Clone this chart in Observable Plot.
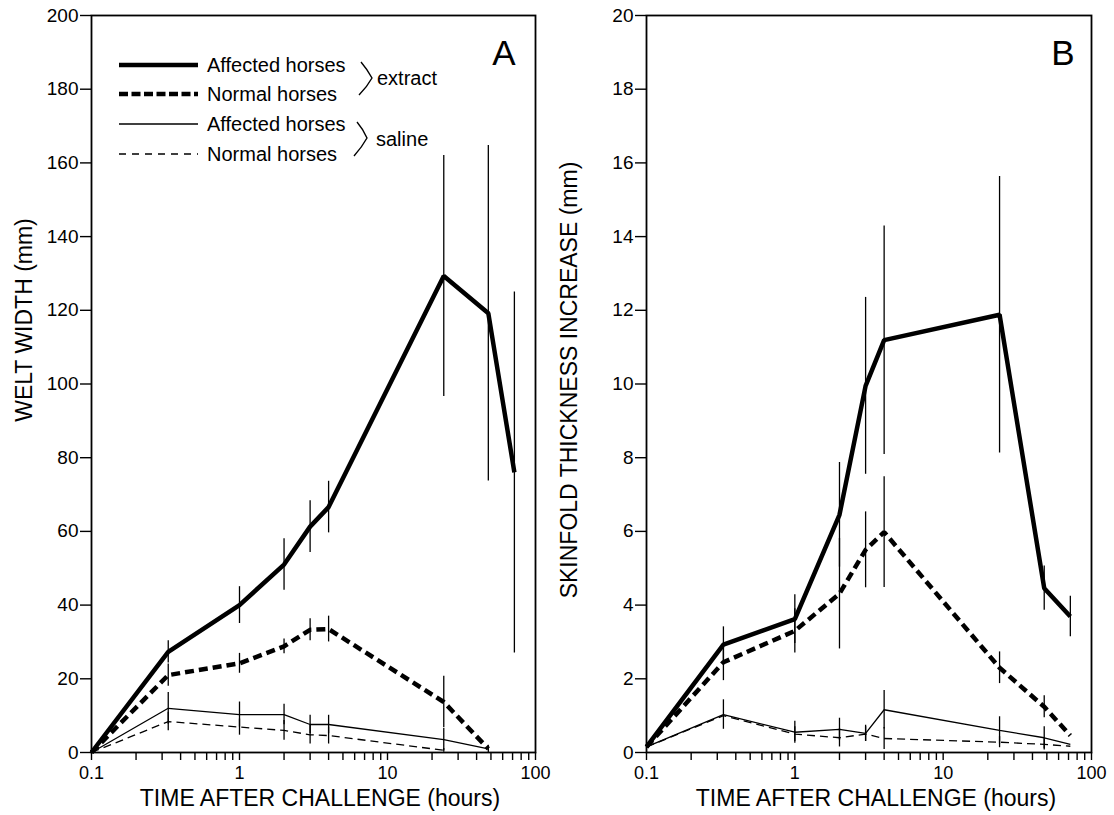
<!DOCTYPE html>
<html>
<head>
<meta charset="utf-8">
<script src="https://cdn.jsdelivr.net/npm/d3@7"></script>
<script src="https://cdn.jsdelivr.net/npm/@observablehq/plot@0.6"></script>
<style>
  html, body { margin: 0; padding: 0; background: #fff; }
  #wrap { display: flex; width: 1114px; height: 815px; }
  svg { display: block; }
</style>
</head>
<body>
<div id="wrap"></div>
<script>
// ---------- data ----------
const hours = [0.1, 0.33, 1, 2, 3, 4, 24, 48, 72];

// Panel A: welt width (mm)
const aAffExtract     = [0, 27.3, 40, 51, 61.3, 66.6, 129.3, 119.2, 76];
const aAffExtractErr  = [0, 3, 5, 7, 7, 7, 32.7, 45.5, 49];
const aNormExtract    = [0, 21, 24.2, 28.8, 33.3, 33.5, 13.7, 1.0, null];
const aNormExtractErr = [0, 3, 2.7, 2, 3, 3.5, 7, 1, null];
const aAffSaline      = [0, 12, 10.3, 10.3, 7.6, 7.6, 3.5, 1.0, null];
const aAffSalineErr   = [0, 4.3, 3.4, 2.8, 2.5, 2.5, 3, 0.5, null];
const aNormSaline     = [0, 8.4, 6.9, 6.0, 4.8, 4.6, 0.6, null, null];
const aNormSalineErr  = [0, 2.5, 2.2, 2.7, 2.5, 2.3, 0.5, null, null];

// Panel B: skinfold thickness increase (mm)
const bAffExtract     = [0.15, 2.93, 3.62, 6.45, 9.95, 11.19, 11.88, 4.46, 3.69];
const bAffExtractErr  = [0, 0.48, 0.66, 1.42, 2.4, 3.1, 3.75, 0.6, 0.55];
const bNormExtract    = [0.15, 2.45, 3.3, 4.31, 5.5, 5.98, 2.3, 1.24, 0.46];
const bNormExtractErr = [0, 0.5, 0.6, 1.5, 1.03, 1.5, 0.43, 0.3, 0];
const bAffSaline      = [0.15, 1.03, 0.55, 0.63, 0.52, 1.16, 0.6, 0.4, 0.22];
const bAffSalineErr   = [0, 0.4, 0.3, 0.3, 0.22, 0.52, 0.37, 0.3, 0];
const bNormSaline     = [0.15, 1.0, 0.5, 0.4, 0.5, 0.38, 0.28, 0.22, 0.17];
const bNormSalineErr  = [0, 0, 0.2, 0.25, 0.2, 0.3, 0.15, 0.15, 0];

// axis ticks
const xTicks = [0.1, 0.2, 0.3, 0.4, 0.5, 0.6, 0.7, 0.8, 0.9,
                1, 2, 3, 4, 5, 6, 7, 8, 9,
                10, 20, 30, 40, 50, 60, 70, 80, 90, 100];
const xLabeled = [0.1, 1, 10, 100];
const yTicksA = [0, 20, 40, 60, 80, 100, 120, 140, 160, 180, 200];
const yTicksB = [0, 2, 4, 6, 8, 10, 12, 14, 16, 18, 20];

const xTitle = "TIME AFTER CHALLENGE (hours)";
const yTitleA = "WELT WIDTH (mm)";
const yTitleB = "SKINFOLD THICKNESS INCREASE (mm)";
const legendRows = ["Affected horses", "Normal horses", "Affected horses", "Normal horses"];
const legendGroups = ["extract", "saline"];

// ---------- helpers ----------
const FONT = "'Liberation Sans', Arial, Helvetica, sans-serif";
function rows(vals, errs) {
  return hours.map((h, i) => ({h, v: vals[i], e: errs[i]})).filter(d => d.v != null);
}
const styles = [
  {w: 4.5, dash: null},       // affected extract
  {w: 4.5, dash: "9,5"},      // normal extract
  {w: 1.3, dash: null},       // affected saline
  {w: 1.3, dash: "8,5"}       // normal saline
];

function panel(series, opts) {
  const marks = [Plot.frame({stroke: "black", strokeWidth: 1.8})];
  series.forEach((s, k) => {
    const data = rows(s[0], s[1]);
    marks.push(Plot.ruleX(data.filter(d => d.e > 0), {
      x: "h", y1: d => Math.max(0, d.v - d.e), y2: d => d.v + d.e,
      stroke: "black", strokeWidth: 1.3
    }));
  });
  series.forEach((s, k) => {
    const data = rows(s[0], s[1]);
    marks.push(Plot.line(data, {
      x: "h", y: "v", stroke: "black", strokeWidth: styles[k].w,
      strokeDasharray: styles[k].dash, strokeLinejoin: "miter", strokeLinecap: "butt"
    }));
  });
  return Plot.plot({
    width: opts.width, height: 815,
    marginLeft: opts.ml, marginRight: opts.mr, marginTop: 15, marginBottom: 63,
    style: {fontFamily: FONT, fontSize: "19px", color: "black", background: "white", overflow: "visible"},
    x: {type: "log", domain: [0.1, 100], ticks: xTicks,
        tickFormat: d => xLabeled.includes(d) ? String(d) : "",
        tickSize: 8, tickPadding: 6, label: null},
    y: {domain: opts.ydom, ticks: opts.yticks, tickSize: 11, tickPadding: 2, label: null},
    marks
  });
}

function addText(svg, str, x, y, size, extra = {}) {
  const t = d3.select(svg).append("text")
    .attr("x", x).attr("y", y)
    .attr("font-family", FONT).attr("font-size", size)
    .attr("text-anchor", "start")
    .attr("fill", "black").text(str);
  for (const k in extra) t.attr(k, extra[k]);
  return t;
}

// ---------- build ----------
const wrap = document.getElementById("wrap");

const svgA = panel([
  [aAffExtract, aAffExtractErr], [aNormExtract, aNormExtractErr],
  [aAffSaline, aAffSalineErr], [aNormSaline, aNormSalineErr]
], {width: 557, ml: 91, mr: 22, ydom: [0, 200], yticks: yTicksA});

const svgB = panel([
  [bAffExtract, bAffExtractErr], [bNormExtract, bNormExtractErr],
  [bAffSaline, bAffSalineErr], [bNormSaline, bNormSalineErr]
], {width: 557, ml: 89, mr: 23, ydom: [0, 20], yticks: yTicksB});

wrap.appendChild(svgA);
wrap.appendChild(svgB);

for (const svg of [svgA, svgB]) {
  d3.select(svg).selectAll('[aria-label^="x-axis"] text').attr("font-size", 18);
  d3.select(svg).selectAll('[aria-label$="tick"] path, [aria-label^="x-axis"] path, [aria-label^="y-axis"] path')
    .attr("stroke-width", 1.4);
}

// axis titles
addText(svgA, xTitle, 320, 806, 23, {"text-anchor": "middle"});
addText(svgB, xTitle, 876 - 557, 806, 23, {"text-anchor": "middle"});
addText(svgA, yTitleA, 0, 0, 23, {"text-anchor": "middle", transform: "translate(32,320) rotate(-90)"});
addText(svgB, yTitleB, 0, 0, 23, {"text-anchor": "middle", transform: "translate(20,380) rotate(-90)"});

// panel letters
addText(svgA, "A", 504, 65, 35, {"text-anchor": "middle"});
addText(svgB, "B", 1063 - 557, 65, 35, {"text-anchor": "middle"});

// legend (panel A)
const legY = [65, 94, 124, 154];
const gA = d3.select(svgA);
legY.forEach((y, i) => {
  const ln = gA.append("line").attr("x1", 119).attr("x2", 198).attr("y1", y).attr("y2", y)
    .attr("stroke", "black").attr("stroke-width", styles[i].w);
  if (styles[i].dash) ln.attr("stroke-dasharray", i === 1 ? "9,3.5" : "7,6");
  addText(svgA, legendRows[i], 207, y + 7, 20);
});
gA.append("path").attr("d", "M361,62 Q367,69 372,78 Q367,87 359,95")
  .attr("fill", "none").attr("stroke", "black").attr("stroke-width", 1.4);
gA.append("path").attr("d", "M357,122 Q363,129 367,138 Q362,147 354,156")
  .attr("fill", "none").attr("stroke", "black").attr("stroke-width", 1.4);
addText(svgA, legendGroups[0], 377, 85, 20);
addText(svgA, legendGroups[1], 376, 146, 20);
</script>
</body>
</html>
